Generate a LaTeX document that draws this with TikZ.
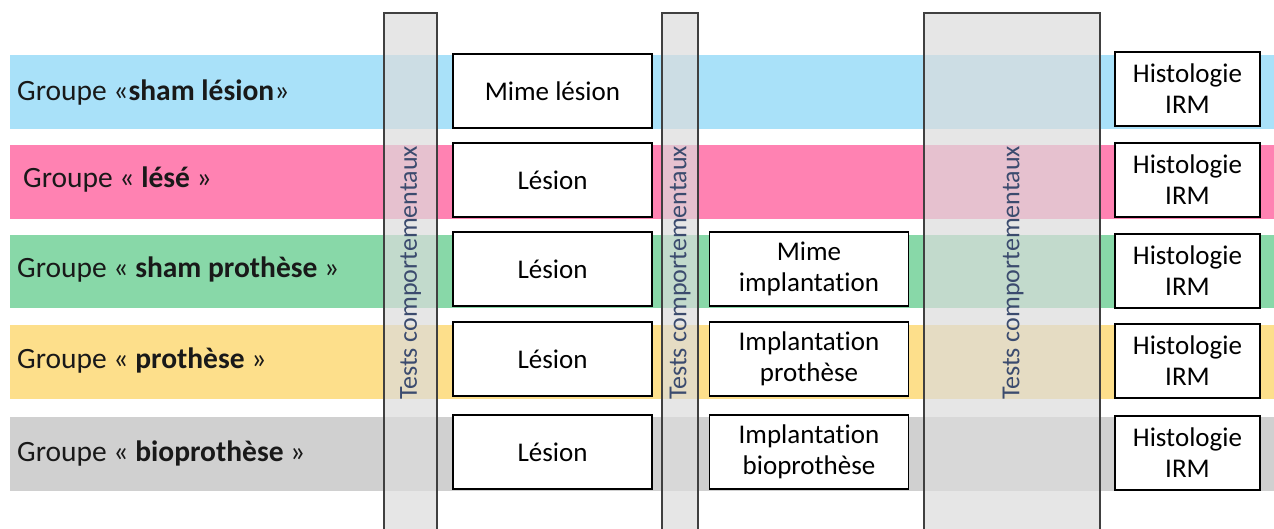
\documentclass[tikz,border=0pt]{standalone}
\usepackage{fontspec}
\setmainfont{Carlito}[Ligatures={NoCommon,NoContextual}]
\definecolor{bandblue}{HTML}{A9E1F9}
\definecolor{bandpink}{HTML}{FF82B2}
\definecolor{bandgreen}{HTML}{88D8A8}
\definecolor{bandyellow}{HTML}{FDDF8B}
\definecolor{bandgray}{HTML}{D0D0D0}
\definecolor{barfill}{HTML}{DCDCDC}
\definecolor{testtext}{HTML}{3B4B6E}

\begin{document}
\begin{tikzpicture}[x=1pt,y=-1pt,
  grouplabel/.style={anchor=west,inner sep=0pt,text=black!90,font=\fontsize{29.5}{33}\selectfont},
  testbar/.style={draw=black!75,line width=1.2pt,fill=barfill,fill opacity=0.7},
  testlabel/.style={rotate=90,inner sep=0pt,text=testtext,font=\fontsize{26}{30}\selectfont},
  stepbox/.style={draw=black,line width=1.2pt,fill=white,minimum height=74pt,inner sep=0pt,
    align=center,font=\fontsize{27}{31}\selectfont},
  wide/.style={stepbox,minimum width=199pt},
  narrow/.style={stepbox,minimum width=145pt}]
\useasboundingbox (0,0) rectangle (1274,528);
% bandes des groupes
\fill[bandblue] (10,55) rectangle (1274,129);
\fill[bandpink] (10,145) rectangle (1274,219);
\fill[bandgreen] (10,235) rectangle (1274,308);
\fill[bandyellow] (10,325) rectangle (1274,399);
\fill[bandgray] (10,417) rectangle (1274,491);
\node[grouplabel] (g1) at (17,93) {Groupe «\textbf{sham lésion}»};
\node[grouplabel] (g2) at (23,180) {Groupe « \textbf{lésé} »};
\node[grouplabel] (g3) at (17,270) {Groupe « \textbf{sham prothèse} »};
\node[grouplabel] (g4) at (17,361) {Groupe « \textbf{prothèse} »};
\node[grouplabel] (g5) at (17,454) {Groupe « \textbf{bioprothèse} »};
% tests comportementaux
\draw[testbar] (384,13) rectangle (437,532);
\draw[testbar] (662,13) rectangle (698,532);
\draw[testbar] (924,13) rectangle (1100,532);
\node[testlabel] (t1) at (410.5,273) {Tests comportementaux};
\node[testlabel] (t2) at (680,273) {Tests comportementaux};
\node[testlabel] (t3) at (1013,273) {Tests comportementaux};
% interventions
\node[wide] (l1) at (552.5,91) {Mime lésion};
\node[wide] (l2) at (552.5,180) {Lésion};
\node[wide] (l3) at (552.5,269) {Lésion};
\node[wide] (l4) at (552.5,359) {Lésion};
\node[wide] (l5) at (552.5,452) {Lésion};
\node[wide] (i3) at (809,269) {Mime\\implantation};
\node[wide] (i4) at (809,359) {Implantation\\prothèse};
\node[wide] (i5) at (809,452) {Implantation\\bioprothèse};
% analyses
\node[narrow] (h1) at (1187.5,89) {Histologie\\IRM};
\node[narrow] (h2) at (1187.5,180) {Histologie\\IRM};
\node[narrow] (h3) at (1187.5,271) {Histologie\\IRM};
\node[narrow] (h4) at (1187.5,361) {Histologie\\IRM};
\node[narrow] (h5) at (1187.5,453) {Histologie\\IRM};
\end{tikzpicture}
\end{document}
